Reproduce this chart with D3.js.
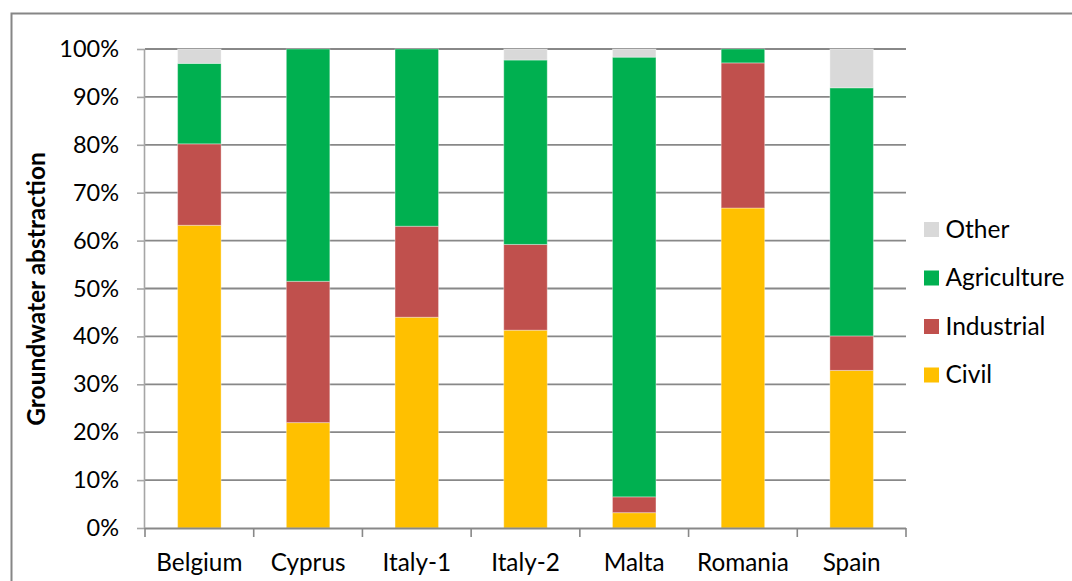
<!DOCTYPE html>
<html>
<head>
<meta charset="utf-8">
<script src="https://cdn.jsdelivr.net/npm/d3@7"></script>
<style>
  html, body { margin: 0; padding: 0; background: #fff; }
  svg { display: block; }
  text { font-family: Lato, "Open Sans", sans-serif; fill: #000; }
</style>
</head>
<body>
<svg id="chart" width="1072" height="581"></svg>
<script>
// ---- data (percent of groundwater abstraction) ----
const categories = ["Belgium", "Cyprus", "Italy-1", "Italy-2", "Malta", "Romania", "Spain"];
const civil       = [63.2, 22.0, 44.0, 41.3,  3.2, 66.8, 32.9];
const industrial  = [17.0, 29.5, 19.0, 17.9,  3.3, 30.3,  7.2];
const agriculture = [16.8, 48.5, 37.0, 38.5, 91.8,  2.9, 51.8];
const other       = [ 3.0,  0.0,  0.0,  2.3,  1.7,  0.0,  8.1];
const seriesNames = ["Civil", "Industrial", "Agriculture", "Other"];
const yTicks = [0, 10, 20, 30, 40, 50, 60, 70, 80, 90, 100];
const yTitle = "Groundwater abstraction";

const colors = {Civil: "#FFC000", Industrial: "#C0504D", Agriculture: "#00B050", Other: "#D9D9D9"};
const seriesValues = {Civil: civil, Industrial: industrial, Agriculture: agriculture, Other: other};

const rows = categories.map((c, i) => {
  const r = {cat: c};
  seriesNames.forEach(s => r[s] = seriesValues[s][i]);
  return r;
});

const svg = d3.select("#chart");
const pLeft = 145, pRight = 906, pTop = 49, pBottom = 528;

// chart border (top & left visible)
svg.append("path")
  .attr("d", `M11.5,1200 V13.5 H1200`)
  .attr("fill", "none").attr("stroke", "#868686").attr("stroke-width", 2);

const x = d3.scaleBand().domain(categories).range([pLeft, pRight]).paddingInner(0.6).paddingOuter(0.3);
const xb = d3.scaleBand().domain(categories).range([pLeft, pRight]);
const y = d3.scaleLinear().domain([0, 100]).range([pBottom, pTop]);

// gridlines
svg.append("g").selectAll("line").data(yTicks.filter(t => t > 0)).join("line")
  .attr("x1", pLeft).attr("x2", pRight)
  .attr("y1", d => y(d)).attr("y2", d => y(d))
  .attr("stroke", "#888888").attr("stroke-width", 1.8);

// y axis
const yAxis = d3.axisLeft(y).tickValues(yTicks).tickFormat(d => d + "%").tickSize(8).tickPadding(18);
const gy = svg.append("g").attr("transform", `translate(${pLeft},0)`).call(yAxis);
gy.select(".domain").attr("stroke", "#A6A6A6").attr("stroke-width", 1.6).attr("d", `M-0.5,${pTop}V${pBottom}`);
gy.selectAll(".tick line").attr("stroke", "#A6A6A6").attr("stroke-width", 1.6);
gy.selectAll(".tick text").attr("font-size", 23.5).attr("font-family", "Lato, sans-serif").attr("fill", "#000");

// stacked bars
const stack = d3.stack().keys(seriesNames);
const stacked = stack(rows);
svg.append("g").selectAll("g").data(stacked).join("g")
  .attr("fill", d => colors[d.key])
  .selectAll("rect").data(d => d).join("rect")
  .attr("x", d => x(d.data.cat))
  .attr("width", x.bandwidth())
  .attr("y", d => y(d[1]))
  .attr("height", d => Math.max(0, y(d[0]) - y(d[1])))
  .attr("stroke", "#ffffff").attr("stroke-opacity", 0.35).attr("stroke-width", 1);

// x axis
const xAxis = d3.axisBottom(xb).tickSize(0);
const gx = svg.append("g").attr("transform", `translate(0,${pBottom})`).call(xAxis);
gx.select(".domain").attr("stroke", "#888888").attr("stroke-width", 1.8).attr("d", `M${pLeft},0.5H${pRight}`);
gx.selectAll(".tick text").attr("y", 43).attr("dy", 0)
  .attr("font-size", 24.3).attr("font-family", "Lato, sans-serif").attr("fill", "#000");
// category boundary ticks
const bounds = categories.map(c => xb(c)).concat([pRight]);
svg.append("g").selectAll("line").data(bounds).join("line")
  .attr("x1", d => d).attr("x2", d => d)
  .attr("y1", pBottom).attr("y2", pBottom + 9)
  .attr("stroke", "#888888").attr("stroke-width", 1.6);

// y title
svg.append("text")
  .attr("transform", `translate(45,289) rotate(-90)`)
  .attr("text-anchor", "middle")
  .attr("font-size", 24.5).attr("font-weight", "bold")
  .text(yTitle);

// legend
const legendOrder = ["Other", "Agriculture", "Industrial", "Civil"];
const lg = svg.append("g").selectAll("g").data(legendOrder).join("g")
  .attr("transform", (d, i) => `translate(924,${229.5 + i * 48.5})`);
lg.append("rect").attr("x", 0).attr("y", -7.5).attr("width", 15).attr("height", 15).attr("fill", d => colors[d]);
lg.append("text").attr("x", 21.5).attr("y", 8).attr("font-size", 24.5).text(d => d);
</script>
</body>
</html>
